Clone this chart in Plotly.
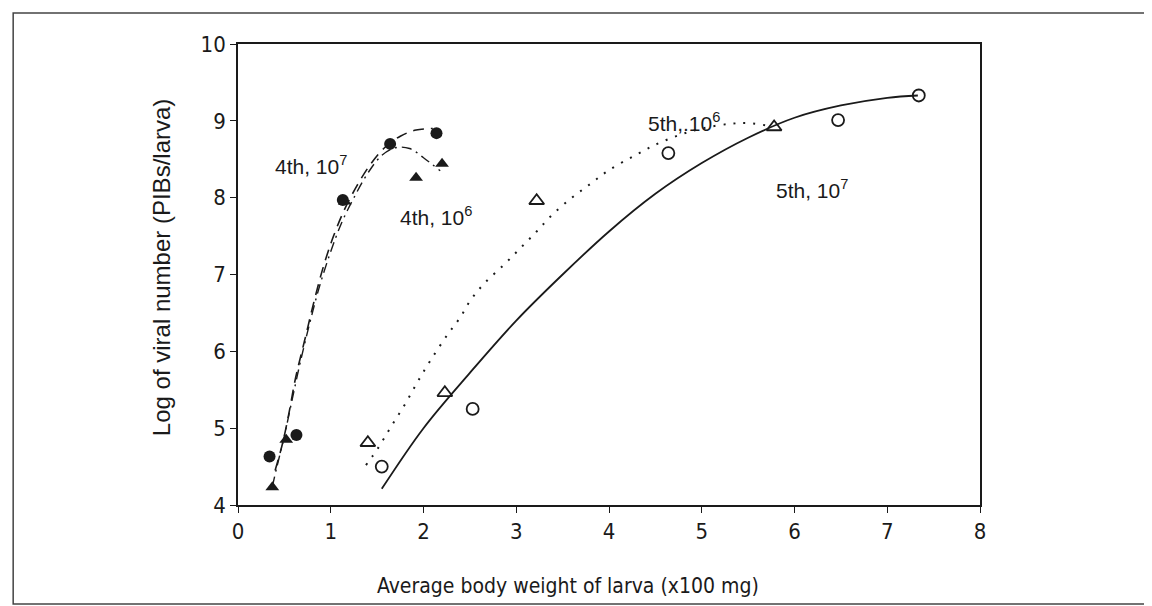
import plotly.graph_objects as go

# ---- data ----
# 4th instar, 10^7 dose (filled circles, dashed curve)
x_4th_7 = [0.34, 0.63, 1.13, 1.64, 2.14]
y_4th_7 = [4.63, 4.91, 7.97, 8.70, 8.84]
curve_x_4th_7 = [0.40, 0.48, 0.55, 0.62, 0.72, 0.82, 0.92, 1.03, 1.15, 1.28, 1.42, 1.58, 1.75, 1.92, 2.10]
curve_y_4th_7 = [4.45, 4.80, 5.20, 5.65, 6.15, 6.65, 7.10, 7.50, 7.85, 8.15, 8.42, 8.65, 8.80, 8.88, 8.90]

# 4th instar, 10^6 dose (filled triangles, dash-dot curve)
x_4th_6 = [0.37, 0.52, 1.15, 1.92, 2.20]
y_4th_6 = [4.23, 4.85, 7.95, 8.26, 8.44]
curve_x_4th_6 = [0.37, 0.42, 0.50, 0.58, 0.67, 0.77, 0.88, 1.00, 1.12, 1.25, 1.40, 1.55, 1.70, 1.85, 2.00, 2.18]
curve_y_4th_6 = [4.24, 4.50, 4.90, 5.35, 5.85, 6.35, 6.85, 7.30, 7.68, 8.00, 8.32, 8.55, 8.65, 8.64, 8.52, 8.35]

# 5th instar, 10^7 dose (open circles, solid curve)
x_5th_7 = [1.55, 2.53, 4.64, 6.47, 7.34]
y_5th_7 = [4.50, 5.25, 8.58, 9.01, 9.33]
curve_x_5th_7 = [1.55, 2.00, 2.50, 3.00, 3.50, 4.00, 4.50, 5.00, 5.50, 6.00, 6.50, 7.00, 7.33]
curve_y_5th_7 = [4.21, 5.00, 5.72, 6.40, 7.00, 7.56, 8.05, 8.45, 8.78, 9.04, 9.20, 9.30, 9.33]

# 5th instar, 10^6 dose (open triangles, dotted curve)
x_5th_6 = [1.40, 2.23, 3.22, 5.78]
y_5th_6 = [4.81, 5.46, 7.96, 8.92]
curve_x_5th_6 = [1.38, 1.51, 1.65, 1.80, 1.94, 2.08, 2.26, 2.39, 2.51, 2.66, 2.87, 3.05, 3.22, 3.39, 3.60, 3.80, 3.99, 4.28, 4.52, 4.77, 5.00, 5.30, 5.50, 5.75]
curve_y_5th_6 = [4.52, 4.74, 5.02, 5.31, 5.61, 5.89, 6.22, 6.43, 6.67, 6.89, 7.13, 7.35, 7.56, 7.78, 8.00, 8.18, 8.35, 8.55, 8.70, 8.82, 8.90, 8.96, 8.97, 8.93]

x_ticks = [0, 1, 2, 3, 4, 5, 6, 7, 8]
y_ticks = [4, 5, 6, 7, 8, 9, 10]

curve_labels = ["4th, 10<sup>7</sup>", "4th, 10<sup>6</sup>", "5th,.10<sup>6</sup>", "5th, 10<sup>7</sup>"]
x_title = "Average body weight of larva (x100 mg)"
y_title = "Log of viral number (PIBs/larva)"

INK = "#1a1a1a"
FONT = "Liberation Sans Narrow, DejaVu Sans Condensed, Liberation Sans, sans-serif"
ANN_FONT = "Liberation Sans, Arial, sans-serif"

fig = go.Figure()

# curves
fig.add_trace(go.Scatter(x=curve_x_4th_7, y=curve_y_4th_7, mode="lines", line_shape="spline",
                         line=dict(color=INK, width=1.6, dash="11px,7px"), hoverinfo="skip", showlegend=False))
fig.add_trace(go.Scatter(x=curve_x_4th_6, y=curve_y_4th_6, mode="lines", line_shape="spline",
                         line=dict(color=INK, width=1.4, dash="10px,5px,2px,5px"), hoverinfo="skip", showlegend=False))
fig.add_trace(go.Scatter(x=curve_x_5th_7, y=curve_y_5th_7, mode="lines", line_shape="spline",
                         line=dict(color=INK, width=1.8), hoverinfo="skip", showlegend=False))
fig.add_trace(go.Scatter(x=curve_x_5th_6, y=curve_y_5th_6, mode="lines", line_shape="spline",
                         line=dict(color=INK, width=2.0, dash="2px,8px"), hoverinfo="skip", showlegend=False))

# markers
fig.add_trace(go.Scatter(x=x_4th_7, y=y_4th_7, mode="markers",
                         marker=dict(symbol="circle", size=12, color=INK), showlegend=False))
fig.add_trace(go.Scatter(x=x_4th_6, y=y_4th_6, mode="markers",
                         marker=dict(symbol="triangle-up", size=12, color=INK), showlegend=False))
fig.add_trace(go.Scatter(x=x_5th_7, y=y_5th_7, mode="markers",
                         marker=dict(symbol="circle-open", size=12, color=INK, line=dict(width=1.8)), showlegend=False))
fig.add_trace(go.Scatter(x=x_5th_6, y=y_5th_6, mode="markers",
                         marker=dict(symbol="triangle-up-open", size=13, color=INK, line=dict(width=1.8)), showlegend=False))

# text labels on curves
label_pos = [(0.38, 8.42), (1.72, 7.76), (4.40, 8.98), (5.78, 8.11)]
for txt, (lx, ly) in zip(curve_labels, label_pos):
    fig.add_annotation(x=lx, y=ly, text=txt, showarrow=False, xanchor="left", yanchor="middle",
                       font=dict(family=ANN_FONT, size=21, color=INK))

# axis titles
fig.add_annotation(xref="paper", yref="paper", x=0.445, y=-0.175, text=x_title, showarrow=False,
                   xanchor="center", yanchor="middle", font=dict(family=FONT, size=21, color=INK))
fig.add_annotation(xref="paper", yref="paper", x=-0.103, y=0.515, text=y_title, showarrow=False,
                   textangle=-90, xanchor="center", yanchor="middle",
                   font=dict(family=ANN_FONT, size=24, color=INK))

# outer frame
fig.add_shape(type="rect", xref="paper", yref="paper", x0=-0.303, x1=1.233, y0=-0.215, y1=1.067,
              line=dict(color="#444444", width=1.5), fillcolor="rgba(0,0,0,0)", layer="below")

fig.update_layout(
    width=1152, height=606,
    margin=dict(l=230, r=180, t=36, b=109),
    paper_bgcolor="white", plot_bgcolor="white",
    font=dict(family=FONT, size=22, color=INK),
    xaxis=dict(range=[0, 8], tickvals=x_ticks, ticktext=[str(v) for v in x_ticks],
               showline=True, linecolor=INK, linewidth=1.6, mirror=True,
               ticks="outside", ticklen=6, tickwidth=1.3, tickcolor=INK, showgrid=False, zeroline=False),
    yaxis=dict(range=[4, 10], tickvals=y_ticks, ticktext=[str(v) for v in y_ticks],
               showline=True, linecolor=INK, linewidth=1.6, mirror=True,
               ticks="outside", ticklen=6, tickwidth=1.3, tickcolor=INK, showgrid=False, zeroline=False),
)

fig.write_html("out.html")
